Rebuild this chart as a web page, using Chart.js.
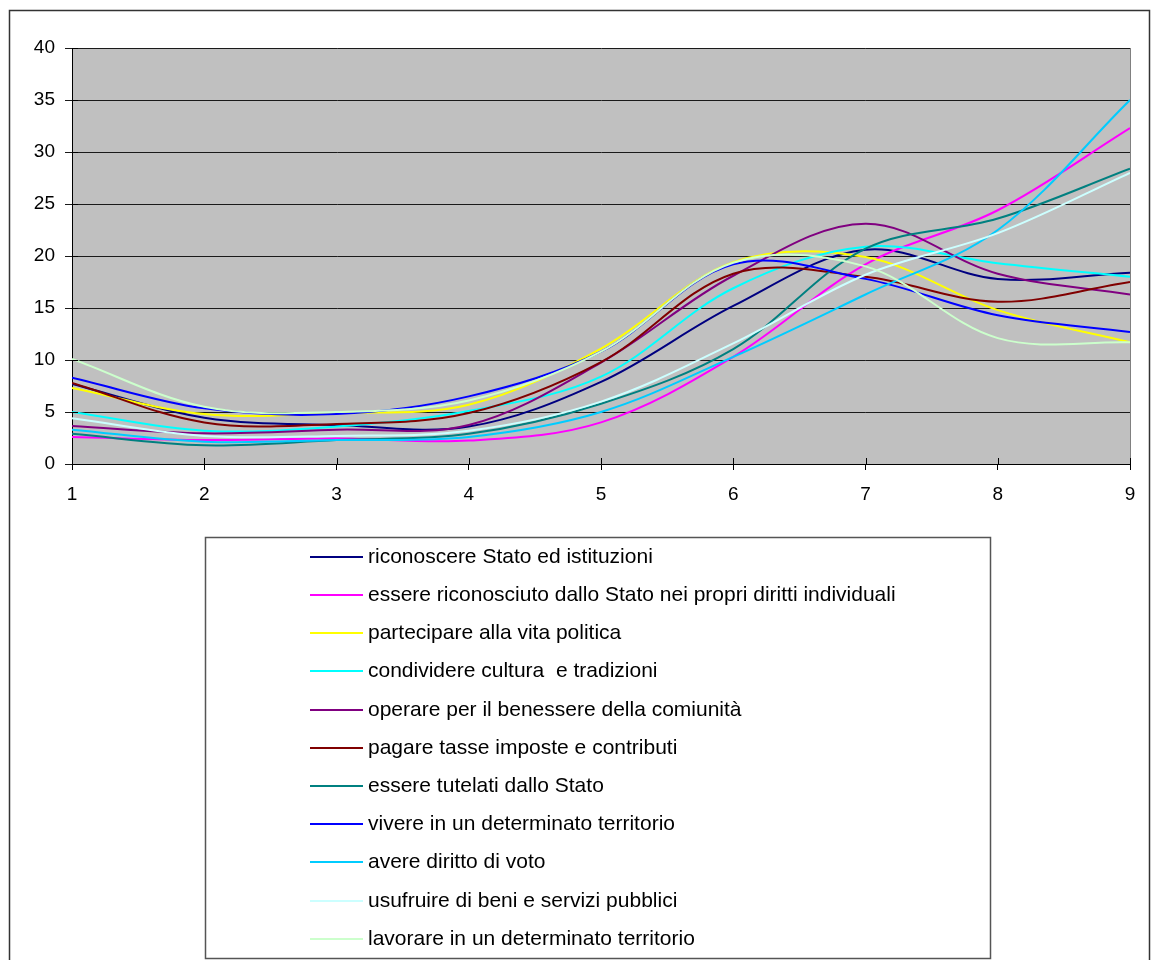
<!DOCTYPE html>
<html>
<head>
<meta charset="utf-8">
<title>grafico</title>
<script src="https://cdn.jsdelivr.net/npm/chart.js@4/dist/chart.umd.min.js"></script>
<style>
    body { margin: 0; background: #ffffff; }
    #wrap { width: 1153px; height: 960px; }
</style>
</head>
<body>
<div id="wrap"><canvas id="my-chart" width="1153" height="960"></canvas></div>
<script>
// x categories (1..9)
const xValues = [1, 2, 3, 4, 5, 6, 7, 8, 9];

const labels = [
    'riconoscere Stato ed istituzioni',
    'essere riconosciuto dallo Stato nei propri diritti individuali',
    'partecipare alla vita politica',
    'condividere cultura  e tradizioni',
    'operare per il benessere della comiunità',
    'pagare tasse imposte e contributi',
    'essere tutelati dallo Stato',
    'vivere in un determinato territorio',
    'avere diritto di voto',
    'usufruire di beni e servizi pubblici',
    'lavorare in un determinato territorio'
];

const riconoscere = [7.7, 4.45, 3.75, 3.6, 7.9, 15.2, 20.6, 17.8, 18.4];
const riconosciuto = [2.6, 2.3, 2.45, 2.25, 4.0, 10.3, 19.2, 24.4, 32.3];
const partecipare = [7.3, 4.8, 4.9, 5.7, 11.1, 19.4, 19.9, 14.8, 11.7];
const condividere = [5.0, 3.2, 3.6, 5.1, 8.4, 16.9, 20.9, 19.3, 18.0];
const operare = [3.65, 2.95, 3.3, 3.75, 9.75, 18.1, 23.1, 18.3, 16.3];
const pagare = [7.8, 4.0, 3.85, 4.9, 9.8, 18.3, 18.0, 15.6, 17.5];
const tutelati = [2.9, 1.8, 2.3, 2.9, 5.8, 11.05, 20.7, 23.6, 28.4];
const vivere = [8.3, 5.35, 4.8, 6.5, 10.8, 19.2, 17.8, 14.3, 12.7];
const voto = [3.3, 2.15, 2.3, 2.6, 5.0, 10.3, 16.3, 22.5, 35.0];
const usufruire = [4.4, 2.7, 2.7, 3.2, 6.0, 11.6, 18.2, 22.2, 28.0];
const lavorare = [10.1, 5.5, 5.0, 6.1, 10.8, 19.35, 19.0, 12.1, 11.7];

const yTicks = [0, 5, 10, 15, 20, 25, 30, 35, 40];

const series = [riconoscere, riconosciuto, partecipare, condividere, operare, pagare, tutelati, vivere, voto, usufruire, lavorare];
const colors = ['#000080', '#FF00FF', '#FFFF00', '#00FFFF', '#800080', '#800000', '#008080', '#0000FF', '#00CCFF', '#CCFFFF', '#CCFFCC'];

const FONT = "'Liberation Sans', Arial, sans-serif";

const datasets = series.map((vals, i) => ({
    label: labels[i],
    data: vals.map((v, k) => ({x: xValues[k], y: v})),
    borderColor: colors[i],
    backgroundColor: colors[i],
    borderWidth: 2,
    pointRadius: 0,
    tension: 0.35,
    fill: false,
    order: series.length - i   // last series on top, like excel
}));

// grey plot area, tick marks crossing axes, outer frame and legend box
const excelLook = {
    id: 'excelLook',
    beforeDraw(chart) {
        const ctx = chart.ctx;
        const a = chart.chartArea;
        ctx.save();
        ctx.fillStyle = '#C0C0C0';
        ctx.fillRect(a.left, a.top, a.right - a.left, a.bottom - a.top);
        ctx.restore();
    },
    afterDraw(chart) {
        const ctx = chart.ctx;
        const a = chart.chartArea;
        const xs = chart.scales.x;
        const ys = chart.scales.y;
        ctx.save();
        // right border of plot
        ctx.strokeStyle = '#808080';
        ctx.lineWidth = 1;
        ctx.beginPath();
        ctx.moveTo(Math.round(a.right) + 0.5, a.top);
        ctx.lineTo(Math.round(a.right) + 0.5, a.bottom);
        ctx.stroke();
        // inner half of tick marks
        ctx.strokeStyle = '#000';
        ctx.beginPath();
        xValues.forEach(v => {
            const px = Math.round(xs.getPixelForValue(v)) + 0.5;
            ctx.moveTo(px, a.bottom);
            ctx.lineTo(px, a.bottom - 6);
        });
        yTicks.forEach(v => {
            const py = Math.round(ys.getPixelForValue(v)) + 0.5;
            ctx.moveTo(a.left, py);
            ctx.lineTo(a.left + 6, py);
        });
        ctx.stroke();

        // outer frame
        ctx.strokeStyle = '#333';
        ctx.lineWidth = 1.5;
        ctx.strokeRect(9.5, 10.5, 1140, 1000);

        // legend
        ctx.strokeStyle = '#555';
        ctx.lineWidth = 1.5;
        ctx.strokeRect(205.5, 537.5, 785, 421);
        ctx.font = '21px ' + FONT;
        ctx.textBaseline = 'middle';
        ctx.textAlign = 'left';
        chart.data.datasets.forEach((ds, i) => {
            const y = Math.round(556.7 + i * 38.2);
            ctx.strokeStyle = ds.borderColor;
            ctx.lineWidth = 2;
            ctx.beginPath();
            ctx.moveTo(310, y);
            ctx.lineTo(363, y);
            ctx.stroke();
            ctx.fillStyle = '#000';
            ctx.fillText(ds.label, 368, y);
        });
        ctx.restore();
    }
};

const chart = new Chart(document.getElementById('my-chart'), {
    type: 'line',
    data: { datasets: datasets },
    options: {
        responsive: false,
        animation: false,
        events: [],
        layout: {
            padding: {left: 0, top: 48, right: 23, bottom: 960 - 464 - 50}
        },
        plugins: {
            legend: { display: false },
            tooltip: { enabled: false },
            title: { display: false }
        },
        scales: {
            x: {
                type: 'linear',
                min: 1,
                max: 9,
                afterFit(scale) { scale.height = 50; },
                afterBuildTicks(scale) { scale.ticks = xValues.map(v => ({value: v})); },
                grid: { display: true, drawOnChartArea: false, color: '#000', tickLength: 6 },
                border: { display: true, color: '#000', width: 1 },
                ticks: { color: '#000', font: { family: FONT, size: 19 }, padding: 13, maxRotation: 0 }
            },
            y: {
                min: 0,
                max: 40,
                afterFit(scale) { scale.width = 72; },
                afterBuildTicks(scale) { scale.ticks = yTicks.map(v => ({value: v})); },
                grid: { color: '#1a1a1a', tickLength: 7 },
                border: { display: true, color: '#000', width: 1 },
                ticks: { color: '#000', font: { family: FONT, size: 19 }, padding: 10 }
            }
        }
    },
    plugins: [excelLook]
});
</script>
</body>
</html>
